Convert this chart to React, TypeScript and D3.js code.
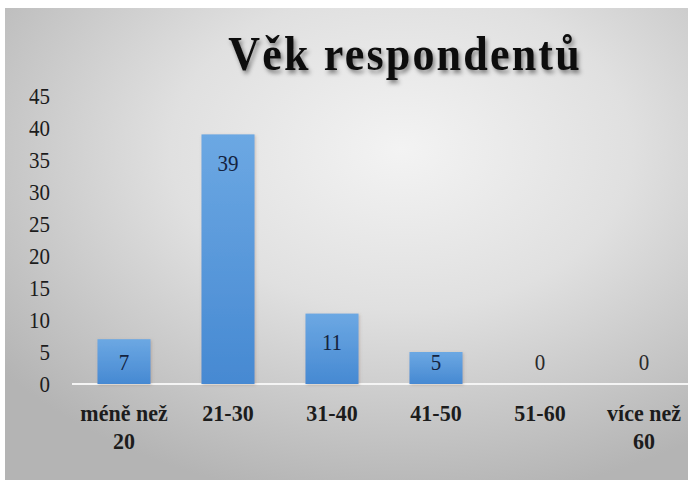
import { useMemo } from "react";
import * as d3 from "d3";

const WIDTH = 688;
const HEIGHT = 480;
const MARGIN = { top: 96, left: 72, right: -8, bottom: 96 };

const categories = ["méně než|20", "21-30", "31-40", "41-50", "51-60", "více než|60"];
const values = [7, 39, 11, 5, 0, 0];
const yTicks = [0, 5, 10, 15, 20, 25, 30, 35, 40, 45];
const title = "Věk respondentů";

const FONT = "Liberation Serif, DejaVu Serif, serif";

export default function App() {
  const boundsWidth = WIDTH - MARGIN.left - MARGIN.right;
  const boundsHeight = HEIGHT - MARGIN.top - MARGIN.bottom;

  const xScale = useMemo(
    () => d3.scaleBand().domain(categories).range([0, boundsWidth]).paddingInner(0.49).paddingOuter(0.245),
    [boundsWidth]
  );
  const yScale = useMemo(
    () => d3.scaleLinear().domain([0, 45]).range([boundsHeight, 0]),
    [boundsHeight]
  );

  // slightly tall glyphs like in the reference
  const stretch = (x: number, y: number) => `translate(${x},${y}) scale(1,1.06)`;

  const bars = values.map((v, i) => {
    const x = xScale(categories[i])!;
    const y = yScale(v);
    const labelY = Math.min(y + 29, yScale(0) - 22);
    return (
      <g key={i}>
        {v > 0 && (
          <rect
            x={x}
            y={y}
            width={xScale.bandwidth()}
            height={boundsHeight - y}
            fill="url(#barGrad)"
            filter="url(#barShadow)"
          />
        )}
        <text
          transform={stretch(x + xScale.bandwidth() / 2, labelY)}
          dy="0.35em"
          textAnchor="middle"
          fontFamily={FONT}
          fontSize={21}
          fill={v > 0 ? "#14233f" : "#2a2a2a"}
        >
          {v}
        </text>
      </g>
    );
  });

  const xLabels = categories.map((c, i) => {
    const cx = xScale(c)! + xScale.bandwidth() / 2;
    const lines = c.split("|");
    return lines.map((l, j) => (
      <text
        key={`${i}-${j}`}
        transform={stretch(cx, boundsHeight + 29 + j * 28)}
        dy="0.35em"
        textAnchor="middle"
        fontFamily={FONT}
        fontSize={22}
        fontWeight="bold"
        fill="#1c1c1c"
      >
        {l}
      </text>
    ));
  });

  return (
    <svg width={WIDTH} height={HEIGHT} style={{ position: "absolute", left: 0, top: 0 }}>
      <defs>
        <radialGradient id="bg" cx="0.58" cy="0.3" r="0.75">
          <stop offset="0" stopColor="#f3f3f3" />
          <stop offset="0.45" stopColor="#e0e0e0" />
          <stop offset="1" stopColor="#b4b4b4" />
        </radialGradient>
        <linearGradient id="barGrad" x1="0" y1="0" x2="0" y2="1">
          <stop offset="0" stopColor="#6ca8e3" />
          <stop offset="1" stopColor="#4689d2" />
        </linearGradient>
        <filter id="barShadow" x="-20%" y="-20%" width="140%" height="140%">
          <feDropShadow dx="1" dy="1" stdDeviation="1.5" floodColor="#8a6a50" floodOpacity="0.35" />
        </filter>
        <filter id="titleShadow" x="-10%" y="-30%" width="120%" height="160%">
          <feDropShadow dx="2" dy="3" stdDeviation="2" floodColor="#000" floodOpacity="0.45" />
        </filter>
      </defs>
      <rect x={0} y={0} width={WIDTH} height={HEIGHT} fill="#ffffff" />
      <rect x={5} y={8} width={WIDTH - 5} height={HEIGHT - 8} fill="url(#bg)" />
      <text
        transform={`translate(405,70) scale(1,1.08)`}
        textAnchor="middle"
        fontFamily={FONT}
        fontSize={44}
        fontWeight="bold"
        letterSpacing={2.2}
        fill="#111"
        filter="url(#titleShadow)"
      >
        {title}
      </text>
      <g transform={`translate(${MARGIN.left},${MARGIN.top})`}>
        {yTicks.map((t) => (
          <text
            key={t}
            transform={stretch(-22, yScale(t))}
            dy="0.35em"
            textAnchor="end"
            fontFamily={FONT}
            fontSize={21}
            fill="#1c1c1c"
          >
            {t}
          </text>
        ))}
        <line x1={0} x2={boundsWidth} y1={boundsHeight} y2={boundsHeight} stroke="#f4f4f4" strokeWidth={2} />
        {bars}
        {xLabels}
      </g>
    </svg>
  );
}
